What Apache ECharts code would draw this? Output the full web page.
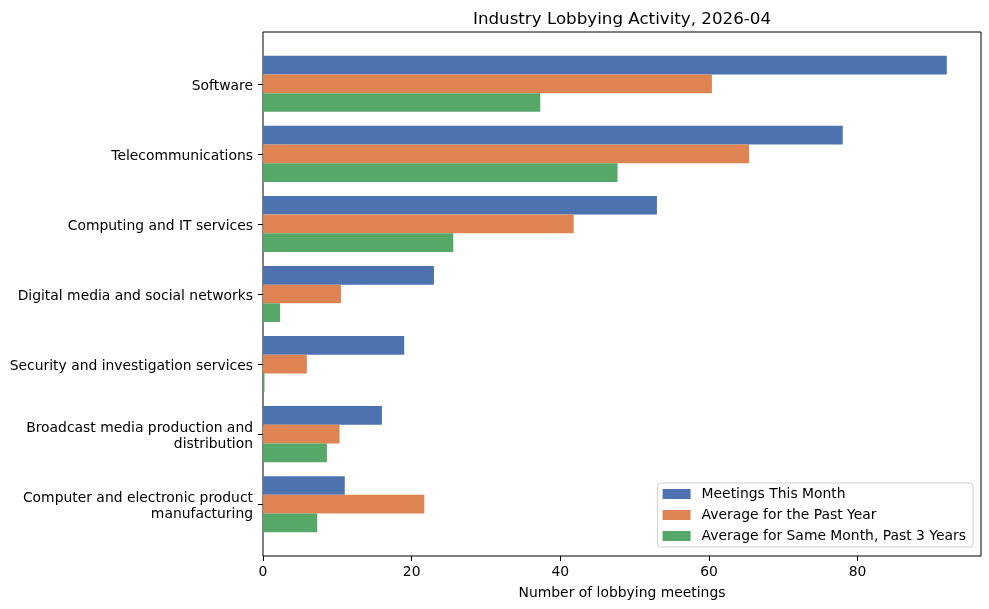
<!DOCTYPE html>
<html>
<head>
<meta charset="utf-8">
<script src="https://cdn.jsdelivr.net/npm/echarts@6/dist/echarts.min.js"></script>
<style>html,body{margin:0;padding:0;background:#fff;}#chart{width:989px;height:609px;}</style>
</head>
<body>
<div id="chart"></div>
<script>
const categories = [
  'Software',
  'Telecommunications',
  'Computing and IT services',
  'Digital media and social networks',
  'Security and investigation services',
  'Broadcast media production and\ndistribution',
  'Computer and electronic product\nmanufacturing'
];
const seriesNames = ['Meetings This Month', 'Average for the Past Year', 'Average for Same Month, Past 3 Years'];
const meetingsThisMonth = [92, 78, 53, 23, 19, 16, 11];
const avgPastYear = [60.4, 65.4, 41.8, 10.5, 5.9, 10.3, 21.7];
const avgSameMonth3Y = [37.3, 47.7, 25.6, 2.3, 0.2, 8.6, 7.3];
const xTicks = [0, 20, 40, 60, 80];
const colors = ['#4c72b0', '#dd8452', '#55a868'];

const FONT = 'DejaVu Sans';
const chart = echarts.init(document.getElementById('chart'), null, {renderer: 'canvas'});
chart.setOption({
  animation: false,
  backgroundColor: '#fff',
  title: {
    text: 'Industry Lobbying Activity, 2026-04',
    left: 622, top: 11, padding: 0, textAlign: 'center',
    textStyle: {fontFamily: FONT, fontSize: 16.7, fontWeight: 'normal', color: '#000'}
  },
  legend: {
    orient: 'vertical', right: 16, bottom: 62,
    padding: [4, 7, 4, 5], itemGap: 7,
    itemWidth: 28, itemHeight: 10, icon: 'rect',
    backgroundColor: 'rgba(255,255,255,0.8)', borderColor: '#d0d0d0', borderWidth: 1, borderRadius: 3,
    textStyle: {fontFamily: FONT, fontSize: 13.9, color: '#000', padding: [0, 0, 0, 6]},
    data: seriesNames
  },
  grid: [
    {left: 263, right: 8, top: 48.8, bottom: 69.8, containLabel: false},
    {left: 263, right: 8, top: 32, bottom: 53, show: true, borderColor: '#000', borderWidth: 1, backgroundColor: 'transparent'}
  ],
  xAxis: [
    {
      type: 'value', gridIndex: 0, min: 0, max: 96.6, interval: 20, offset: 16.8,
      axisLine: {show: false},
      axisTick: {show: true, length: 5, lineStyle: {color: '#000'}, customValues: xTicks},
      axisLabel: {fontFamily: FONT, fontSize: 13.9, color: '#000', margin: 9, customValues: xTicks},
      splitLine: {show: false},
      name: 'Number of lobbying meetings', nameLocation: 'middle', nameGap: 30,
      nameTextStyle: {fontFamily: FONT, fontSize: 13.9, color: '#000'}
    },
    {type: 'value', gridIndex: 1, show: false, min: 0, max: 1}
  ],
  yAxis: [
    {
      type: 'category', gridIndex: 0, data: categories, inverse: true,
      axisLine: {show: false},
      axisTick: {show: true, length: 5, alignWithLabel: true, lineStyle: {color: '#000'}},
      axisLabel: {
        fontFamily: FONT, fontSize: 13.9, color: '#000', margin: 10, align: 'right',
        formatter: function (v) { return '{gap|}\n' + v.split('\n').map(function (s) { return '{a|' + s + '}'; }).join('\n'); },
        rich: {
          a: {fontFamily: FONT, fontSize: 13.9, color: '#000', lineHeight: 16},
          gap: {fontSize: 1, lineHeight: 5}
        }
      },
      splitLine: {show: false}
    },
    {type: 'value', gridIndex: 1, show: false, min: 0, max: 1}
  ],
  series: [
    {name: seriesNames[0], type: 'bar', data: meetingsThisMonth, itemStyle: {color: colors[0]}, barGap: '0%', barCategoryGap: '20%', xAxisIndex: 0, yAxisIndex: 0},
    {name: seriesNames[1], type: 'bar', data: avgPastYear, itemStyle: {color: colors[1]}, barGap: '0%', barCategoryGap: '20%', xAxisIndex: 0, yAxisIndex: 0},
    {name: seriesNames[2], type: 'bar', data: avgSameMonth3Y, itemStyle: {color: colors[2]}, barGap: '0%', barCategoryGap: '20%', xAxisIndex: 0, yAxisIndex: 0}
  ]
});
</script>
</body>
</html>
